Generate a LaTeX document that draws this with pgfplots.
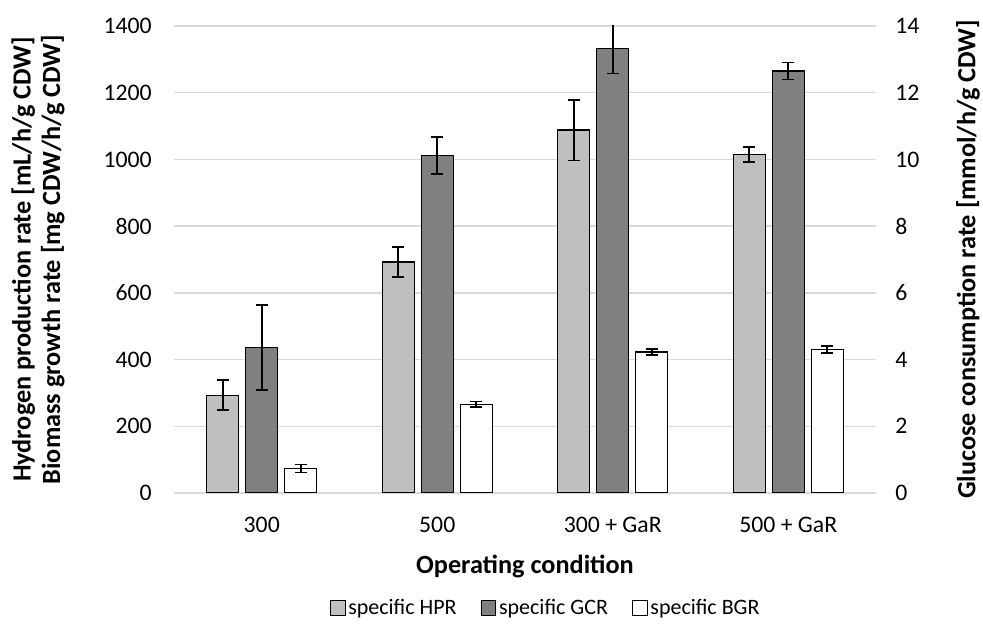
\documentclass[border=0pt]{standalone}
\usepackage{fontspec}
\setmainfont{Carlito}
\usepackage{pgfplots}
\usepackage{pgfplotstable}
\pgfplotsset{compat=1.18}
\definecolor{hprc}{HTML}{BFBFBF}
\definecolor{gcrc}{HTML}{808080}
\definecolor{gridc}{HTML}{D9D9D9}

\pgfplotstableread{
x y e
0 293 45
1 693 45
2 1088 91
3 1015 22
}\hprtab
\pgfplotstableread{
x y e
0 4.36 1.27
1 10.12 0.56
2 13.33 0.75
3 12.65 0.25
}\gcrtab
\pgfplotstableread{
x y e
0 73 12
1 266 8
2 423 9
3 430 10
}\bgrtab

\pgfplotsset{
  sqleg/.style={legend image code/.code={\draw[##1, line width=0.8pt, draw=black] (0pt,-5.5pt) rectangle (11pt,5.5pt);}},
  errs/.style={error bars/.cd, y dir=both, y explicit,
     error bar style={line width=1.2pt, black},
     error mark options={rotate=90, line width=1.2pt, black, mark size=4.5pt}},
}

\begin{document}
\begin{tikzpicture}
\path[use as bounding box] (-130.5pt,-101.25pt) rectangle (606.75pt,369.75pt);
\begin{axis}[
  at={(0,0)}, anchor=south west,
  scale only axis, width=526.5pt, height=350.25pt,
  xmin=-0.5, xmax=3.5, ymin=0, ymax=1400,
  ytick={0,200,...,1400},
  xtick={0,1,2,3}, xticklabels={300,500,300 + GaR,500 + GaR},
  ymajorgrids, grid style={gridc, line width=1pt},
  axis line style={draw=none},
  major tick length=0pt,
  tick label style={font=\fontsize{17.8}{20}\selectfont},
  /pgf/number format/assume math mode=true,
  /pgf/number format/1000 sep={},
  xticklabel style={anchor=center, yshift=-24pt},
  yticklabel style={anchor=east, inner sep=0pt, xshift=-16.5pt},
  xlabel={Operating condition},
  xlabel style={font=\bfseries\fontsize{19.7}{22}\selectfont, at={(axis description cs:0.5,-0.158)}, anchor=center},
  ylabel={Hydrogen production rate [mL/h/g CDW]\\Biomass growth rate [mg CDW/h/g CDW]},
  ylabel style={font=\bfseries\fontsize{19.7}{22}\selectfont, align=center, at={(axis description cs:-0.1937,0.5)}, anchor=center},
  ybar, bar width=24pt,
  legend columns=3,
  legend cell align=left,
  legend style={at={(axis description cs:0.53,-0.246)}, anchor=center, draw=none,
     font=\fontsize{16.5}{19}\selectfont,
     /tikz/every even column/.append style={column sep=16pt}},
]
\addplot[sqleg, fill=hprc, draw=black, line width=1.1pt, bar shift=-29.25pt, errs]
  table[x=x, y=y, y error=e]{\hprtab};
\addlegendentry{specific HPR}
\addlegendimage{sqleg, fill=gcrc, draw=black}
\addlegendentry{specific GCR}
\addplot[sqleg, fill=white, draw=black, line width=1.1pt, bar shift=29.25pt, errs]
  table[x=x, y=y, y error=e]{\bgrtab};
\addlegendentry{specific BGR}
\end{axis}
\begin{axis}[
  at={(0,0)}, anchor=south west,
  scale only axis, width=526.5pt, height=350.25pt,
  xmin=-0.5, xmax=3.5, ymin=0, ymax=14,
  ytick={0,2,...,14},
  axis y line*=right, axis x line=none,
  axis line style={draw=none},
  major tick length=0pt,
  tick label style={font=\fontsize{17.8}{20}\selectfont},
  /pgf/number format/assume math mode=true,
  yticklabel style={anchor=west, inner sep=0pt, xshift=14.25pt},
  ylabel={Glucose consumption rate [mmol/h/g CDW]},
  ylabel style={font=\bfseries\fontsize{19.7}{23}\selectfont, at={(axis description cs:1.131,0.5)}, anchor=center},
  ybar, bar width=24pt,
]
\addplot[fill=gcrc, draw=black, line width=1.1pt, bar shift=0pt, errs]
  table[x=x, y=y, y error=e]{\gcrtab};
\end{axis}
\end{tikzpicture}
\end{document}
